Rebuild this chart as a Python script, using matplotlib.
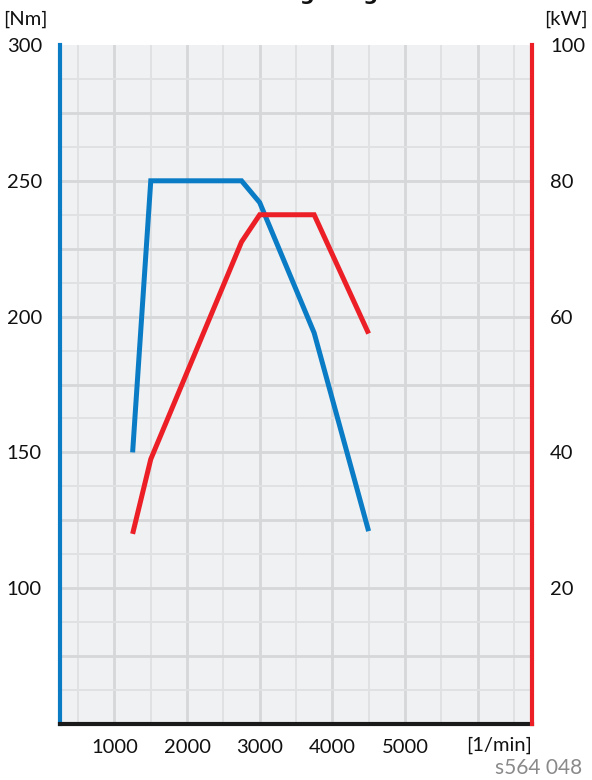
import matplotlib
matplotlib.use("Agg")
import matplotlib.pyplot as plt
from matplotlib.ticker import MultipleLocator, FixedLocator

# ---- data ----
rpm_torque = [1250, 1500, 2750, 3000, 3750, 4500]
torque_nm = [150, 250, 250, 242, 194, 121]
rpm_power = [1250, 1500, 2750, 3000, 3750, 4500]
power_kw = [28, 39, 71, 75, 75, 57.5]

x_ticks = [1000, 2000, 3000, 4000, 5000]
y_left_ticks = [100, 150, 200, 250, 300]
y_right_ticks = [20, 40, 60, 80, 100]

BLUE = "#0a7cc6"
RED = "#ec1f27"
GRID_MAJ = "#d6d7d9"
GRID_MIN = "#e0e1e3"
BG = "#f0f1f3"
FS = 14.5

plt.rcParams['font.family'] = ['Lato', 'DejaVu Sans']

fig = plt.figure(figsize=(5.92, 7.80), dpi=100)
W, H = 592, 780
l, r, t, b = 60, 532, 45, 724
ax = fig.add_axes([l / W, 1 - b / H, (r - l) / W, (b - t) / H])
ax.set_facecolor(BG)
ax.set_xlim(250, 6750)
ax.set_ylim(50, 300)

ax.xaxis.set_major_locator(FixedLocator(x_ticks))
ax.yaxis.set_major_locator(FixedLocator(y_left_ticks))

# grid drawn manually for major/minor thickness control
for xv in range(500, 6750, 500):
    ax.axvline(xv, color=GRID_MAJ if xv % 1000 == 0 else GRID_MIN,
               lw=2.0 if xv % 1000 == 0 else 1.4, zorder=0.5)
yv = 62.5
while yv < 300:
    maj = abs((yv / 25) - round(yv / 25)) < 1e-9
    ax.axhline(yv, color=GRID_MAJ if maj else GRID_MIN,
               lw=2.0 if maj else 1.4, zorder=0.5)
    yv += 12.5

ax.tick_params(which='both', length=0)
ax.tick_params(axis='y', pad=13, labelsize=FS, colors='#111111')
ax.tick_params(axis='x', pad=11, labelsize=FS, colors='#111111')
ax.set_xticklabels([str(v) for v in x_ticks])
ax.set_yticklabels([str(v) for v in y_left_ticks])

ax.spines['top'].set_visible(False)
ax.spines['right'].set_visible(False)
ax.spines['left'].set_color(BLUE)
ax.spines['left'].set_linewidth(3)
ax.spines['bottom'].set_color('#1a1a1a')
ax.spines['bottom'].set_linewidth(3)
ax.spines['bottom'].set_zorder(5)

ax.plot(rpm_torque, torque_nm, color=BLUE, lw=3.6, zorder=3,
        solid_joinstyle='miter', solid_capstyle='butt')

ax2 = ax.twinx()
ax2.set_ylim(0, 100)
ax2.yaxis.set_major_locator(FixedLocator(y_right_ticks))
ax2.tick_params(which='both', length=0)
ax2.tick_params(axis='y', pad=13, labelsize=FS, colors='#111111')
ax2.set_yticklabels([str(v) for v in y_right_ticks])
for s in ['top', 'left', 'bottom']:
    ax2.spines[s].set_visible(False)
ax2.spines['right'].set_color(RED)
ax2.spines['right'].set_linewidth(3)
ax2.plot(rpm_power, power_kw, color=RED, lw=3.6, zorder=3,
         solid_joinstyle='miter', solid_capstyle='butt')

# unit labels
fig.text(25 / W, 1 - 19 / H, "[Nm]", ha='center', va='center', fontsize=FS, color='#111111')
fig.text(566 / W, 1 - 19 / H, "[kW]", ha='center', va='center', fontsize=FS, color='#111111')
ax.text(1.0, -0.031, "[1/min]", transform=ax.transAxes, ha='right', va='center',
        fontsize=FS, color='#111111')
fig.text(582 / W, 1 - 768 / H, "s564 048", ha='right', va='center',
         fontsize=15, color='#8a8a8a')

# title (mostly above the visible area in the reference, only descenders show)
fig.text(213 / W, 1.0, "Leistungsdiagramm", ha='left', va='baseline',
         fontsize=15, fontweight='bold', family='DejaVu Sans', color='#111111')

fig.savefig("out.png", dpi=100)
